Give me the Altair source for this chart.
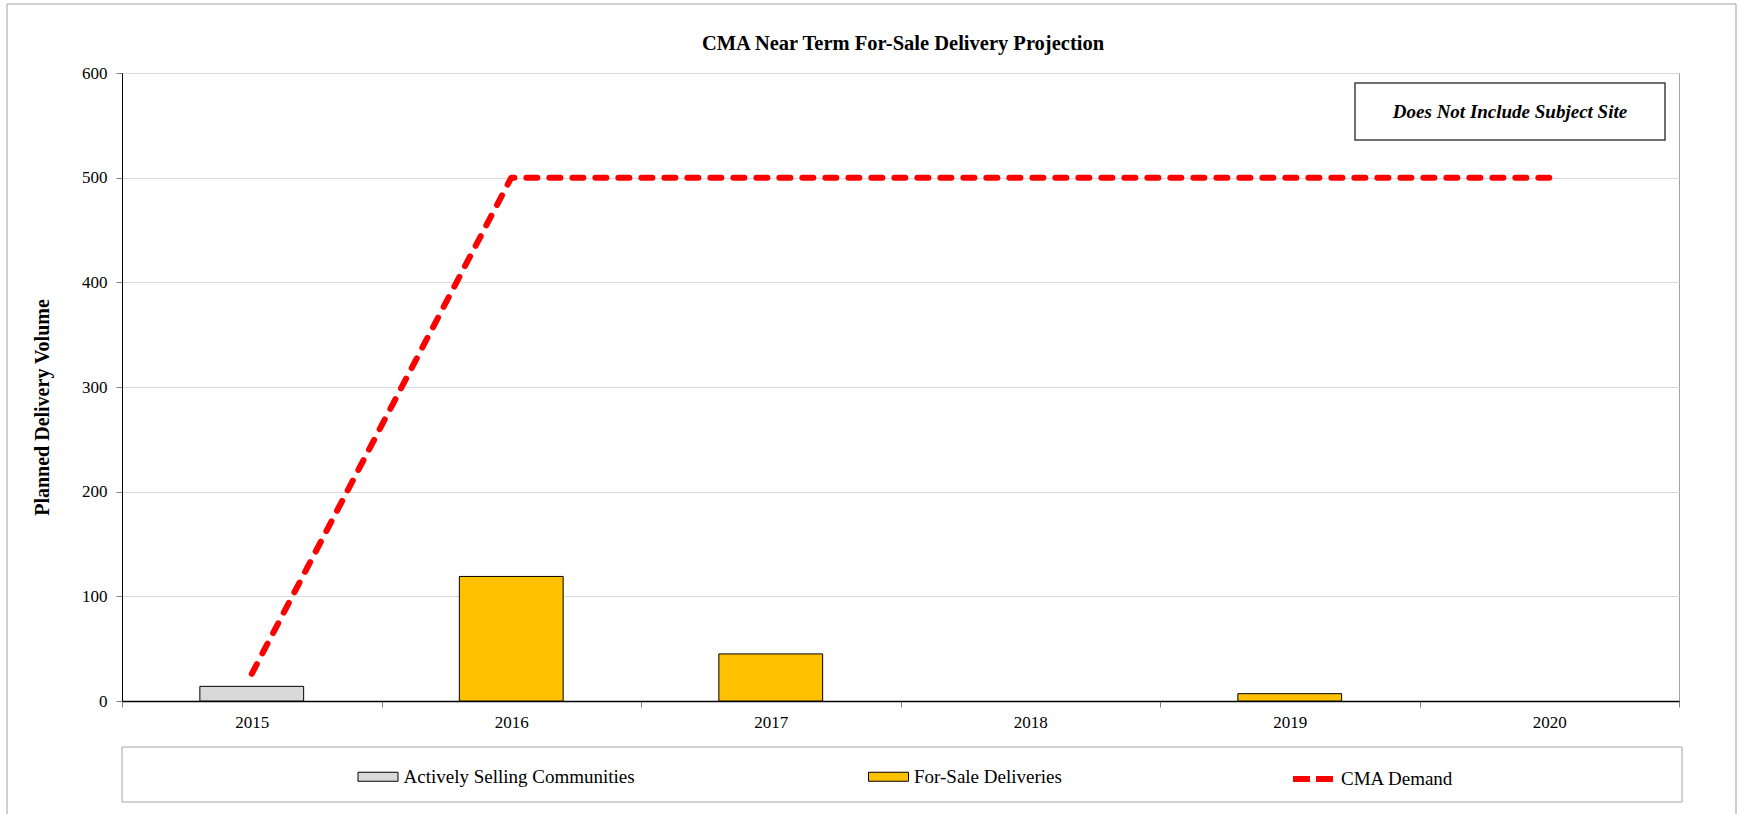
import altair as alt
import pandas as pd

# ---- data -------------------------------------------------------------
years = ["2015", "2016", "2017", "2018", "2019", "2020"]
active_selling = [14, 0, 0, 0, 0, 0]
for_sale = [0, 119, 45, 0, 7, 0]
cma_demand = [26, 500, 500, 500, 500, 500]

bar_series = ["Actively Selling Communities", "For-Sale Deliveries"]
bar_colors = ["#d9d9d9", "#ffc000"]
line_series = ["CMA Demand"]
line_colors = ["#ff0000"]
y_ticks = [0, 100, 200, 300, 400, 500, 600]

chart_title = "CMA Near Term For-Sale Delivery Projection"
y_title = "Planned Delivery Volume"
note_text = "Does Not Include Subject Site"

# ---- layout -----------------------------------------------------------
W, H = 1557, 628
SERIF = "Liberation Serif"

bar_rows = [
    {"year": y, "series": bar_series[0], "value": v}
    for y, v in zip(years, active_selling) if v > 0
] + [
    {"year": y, "series": bar_series[1], "value": v}
    for y, v in zip(years, for_sale) if v > 0
]
bars_df = pd.DataFrame(bar_rows)
line_df = pd.DataFrame({"year": years, "series": line_series[0], "value": cma_demand})
one_row = pd.DataFrame({"k": [0]})

x_enc = alt.X(
    "year:O",
    sort=years,
    scale=alt.Scale(domain=years, paddingInner=0, paddingOuter=0),
    axis=alt.Axis(
        title=None, labelAngle=0, tickBand="extent", grid=False,
        labelFont=SERIF, labelFontSize=17, labelColor="black", labelPadding=7,
        tickColor="#808080", tickSize=6, domainColor="black", domainWidth=1.5,
    ),
)
y_enc = alt.Y(
    "value:Q",
    scale=alt.Scale(domain=[0, 600], nice=False),
    axis=alt.Axis(
        values=y_ticks, title=y_title,
        titleFont=SERIF, titleFontSize=20, titleFontWeight="bold", titleColor="black",
        titleX=-80, titleY=334, titleAlign="center", titleBaseline="middle",
        labelFont=SERIF, labelFontSize=17, labelColor="black", labelPadding=9,
        tickColor="#808080", tickSize=6, domainColor="black", domainWidth=1,
        gridColor="#d9d9d9", gridWidth=1,
    ),
)

legend_common = dict(
    title=None, orient="none", legendY=683, direction="horizontal",
    labelOffset=5, padding=0, symbolSize=1600,
    labelFont=SERIF, labelFontSize=19, labelColor="black", labelLimit=500,
)

fill_enc = alt.Fill(
    "series:N",
    scale=alt.Scale(domain=bar_series, range=bar_colors),
    legend=alt.Legend(
        legendX=235.5, columnPadding=230.5,
        symbolType="M-1,-0.225H1V0.225H-1Z",
        symbolStrokeColor="black", symbolStrokeWidth=1, symbolOpacity=1,
        **legend_common,
    ),
)
stroke_enc = alt.Stroke(
    "series:N",
    scale=alt.Scale(domain=line_series, range=line_colors),
    legend=alt.Legend(
        legendX=1168,
        symbolType="M-1,0H1", symbolStrokeWidth=6, symbolDash=[17, 6],
        **legend_common,
    ),
)

# outer chart frame and legend frame
outer_frame = alt.Chart(one_row).mark_rect(
    fill="transparent", stroke="#a0a0a0", strokeWidth=1
).encode(x=alt.value(-115), x2=alt.value(1614), y=alt.value(-69), y2=alt.value(760))

legend_frame = alt.Chart(one_row).mark_rect(
    fill="transparent", stroke="#a6a6a6", strokeWidth=1
).encode(x=alt.value(0), x2=alt.value(1560), y=alt.value(674), y2=alt.value(729))

title_text = alt.Chart(one_row).mark_text(
    font=SERIF, fontSize=20.5, fontWeight="bold", color="black",
    align="center", baseline="alphabetic",
).encode(x=alt.value(781), y=alt.value(-23), text=alt.value(chart_title))

bars = alt.Chart(bars_df).mark_bar(
    width={"band": 0.4}, stroke="black", strokeWidth=1
).encode(x=x_enc, y=y_enc, fill=fill_enc)

line = alt.Chart(line_df).mark_line(
    strokeWidth=6, strokeDash=[11, 12], strokeCap="round", strokeJoin="round"
).encode(x=x_enc, y=y_enc, stroke=stroke_enc)

note_box = alt.Chart(one_row).mark_rect(
    fill="white", stroke="#404040", strokeWidth=1.5
).encode(x=alt.value(1233), x2=alt.value(1543), y=alt.value(10), y2=alt.value(67))

note = alt.Chart(one_row).mark_text(
    font=SERIF, fontSize=19, fontWeight="bold", fontStyle="italic",
    color="black", align="center", baseline="middle",
).encode(x=alt.value(1388), y=alt.value(39), text=alt.value(note_text))

chart = (
    alt.layer(outer_frame, legend_frame, title_text, bars, line, note_box, note)
    .resolve_legend(fill="independent", stroke="independent")
    .properties(
        width=W,
        height=H,
        autosize=alt.AutoSizeParams(type="none"),
        padding={"left": 122, "top": 73, "right": 68, "bottom": 113},
        background="white",
    )
    .configure_view(stroke="#a0a0a0", strokeWidth=1)
)

chart.save("out.html", embed_options={"renderer": "svg", "actions": False})
